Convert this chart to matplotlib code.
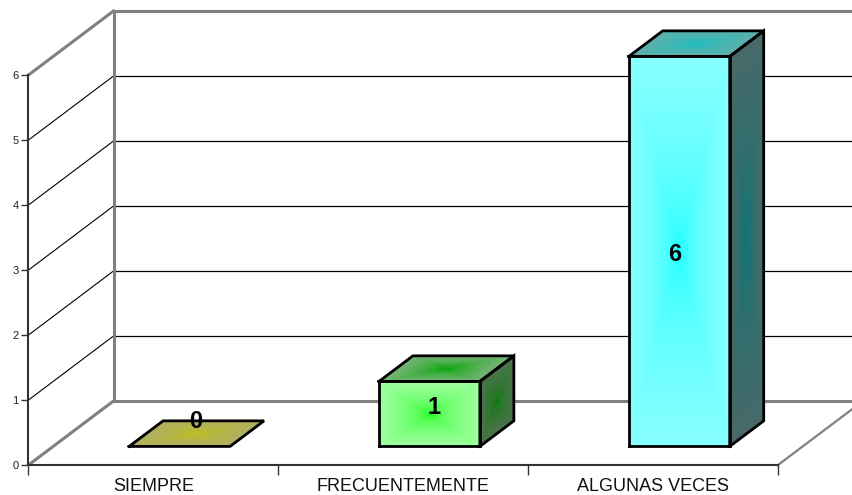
import numpy as np
import matplotlib
matplotlib.use('Agg')
import matplotlib.pyplot as plt

plt.rcParams['font.family'] = ['Liberation Sans', 'DejaVu Sans']

categories = ['SIEMPRE', 'FRECUENTEMENTE', 'ALGUNAS VECES']
values = [0, 1, 6]
y_ticks = [0, 1, 2, 3, 4, 5, 6]

# face colours, (center, edge) for each bar
front_colors = [((190, 190, 30), (175, 175, 100)),
                ((0, 255, 0), (160, 255, 160)),
                ((0, 255, 255), (135, 255, 255))]
top_colors = [((190, 190, 30), (175, 175, 100)),
              ((0, 165, 0), (120, 180, 120)),
              ((25, 190, 190), (95, 175, 170))]
side_colors = [((95, 95, 15), (90, 90, 50)),
               ((0, 125, 0), (75, 115, 75)),
               ((0, 120, 120), (72, 105, 105))]

# depth of the 3d box, in data units
depth_x = 85 / 249.83
depth_y = 64 / 65
bar_width = 0.404
bar_near = 0.29
bar_far = 0.69
bar_shift = 0.006
GRAY = '#808080'
DARK = '#333333'


def project(x, y, d):
    return x + d * depth_x, y + d * depth_y


def shaded_face(ax, corner, u_vec, v_vec, colors, power=1.0):
    # corner + u*u_vec + v*v_vec, rectangular gradient from the center
    u, v = np.meshgrid(np.linspace(0, 1, 81), np.linspace(0, 1, 81))
    X = corner[0] + u * u_vec[0] + v * v_vec[0]
    Y = corner[1] + u * u_vec[1] + v * v_vec[1]
    uc = (u[:-1, :-1] + u[1:, 1:]) / 2
    vc = (v[:-1, :-1] + v[1:, 1:]) / 2
    t = np.maximum(np.abs(2 * uc - 1), np.abs(2 * vc - 1)) ** power
    center, edge = np.array(colors[0]) / 255, np.array(colors[1]) / 255
    rgb = center + t[..., None] * (edge - center)
    ax.pcolormesh(X, Y, rgb, shading='flat', clip_on=False, zorder=3,
                  antialiased=False, linewidth=0, rasterized=True)
    xs = [corner[0], corner[0] + u_vec[0], corner[0] + u_vec[0] + v_vec[0], corner[0] + v_vec[0], corner[0]]
    ys = [corner[1], corner[1] + u_vec[1], corner[1] + u_vec[1] + v_vec[1], corner[1] + v_vec[1], corner[1]]
    ax.plot(xs, ys, color='black', lw=2, clip_on=False, zorder=4, solid_joinstyle='miter')


fig = plt.figure(figsize=(8.52, 4.95), dpi=100)
ax = fig.add_axes([28.5 / 852, 30 / 495, 749.5 / 852, 390 / 495])
ax.set_xlim(0, 3)
ax.set_ylim(0, 6)
ax.patch.set_visible(False)

# walls and floor
top = y_ticks[-1]
x_end = 3 + depth_x
ax.plot([depth_x, depth_x], [depth_y, top + depth_y], color=GRAY, lw=2.2, clip_on=False, zorder=2)
ax.plot([depth_x, x_end], [top + depth_y, top + depth_y], color=GRAY, lw=2.2, clip_on=False, zorder=1)
ax.plot([depth_x, x_end], [depth_y, depth_y], color=GRAY, lw=2.2, clip_on=False, zorder=1)
ax.plot([0, depth_x], [top, top + depth_y], color=GRAY, lw=2.2, clip_on=False, zorder=2)
ax.plot([0, depth_x], [0, depth_y], color=GRAY, lw=2.2, clip_on=False, zorder=2)
ax.plot([3, x_end], [0, depth_y], color=GRAY, lw=1.6, clip_on=False, zorder=1)

# gridlines on side and back wall
for tick in y_ticks[1:-1]:
    ax.plot([0, depth_x], [tick, tick + depth_y], color='black', lw=0.8, clip_on=False, zorder=1)
    ax.plot([depth_x, x_end], [tick + depth_y, tick + depth_y], color='black', lw=0.9, clip_on=False, zorder=1)

# bars
for i, val in enumerate(values):
    x0 = i + 0.5 - bar_width / 2 + bar_shift
    bx, by = project(x0, 0, bar_near)
    dx = (bar_far - bar_near) * depth_x
    dy = (bar_far - bar_near) * depth_y
    if val > 0:
        shaded_face(ax, (bx, by), (bar_width, 0), (0, val), front_colors[i], 0.4)
        shaded_face(ax, (bx + bar_width, by), (dx, dy), (0, val), side_colors[i], 0.5)
    shaded_face(ax, (bx, by + val), (bar_width, 0), (dx, dy), top_colors[i], 0.7)

# value labels
label_shift = [(0.07, 0.38), (0.024, 0.095), (-0.014, -0.045)]
for i, val in enumerate(values):
    bx, by = project(i + 0.5, 0, bar_near)
    ax.text(bx + label_shift[i][0], by + val / 2 + label_shift[i][1], str(val),
            ha='center', va='center', fontsize=17, fontweight='bold', color='black', zorder=5, clip_on=False)

# axes
for name in ['top', 'right']:
    ax.spines[name].set_visible(False)
for name in ['left', 'bottom']:
    ax.spines[name].set_color(DARK)
    ax.spines[name].set_linewidth(1.5)
    ax.spines[name].set_zorder(2.5)
ax.set_yticks(y_ticks)
ax.set_xticks([0, 1, 2, 3])
ax.set_xticks([0.5, 1.5, 2.5], minor=True)
ax.set_xticklabels([])
ax.set_xticklabels(categories, minor=True)
ax.tick_params(axis='y', length=5, width=1, color=DARK, labelsize=8, pad=2, labelcolor='#222222')
ax.tick_params(axis='x', which='major', length=7, width=1, color=DARK)
ax.tick_params(axis='x', which='minor', length=0, labelsize=13, pad=9.5, labelcolor='#111111')

fig.savefig('out.png', dpi=100)
